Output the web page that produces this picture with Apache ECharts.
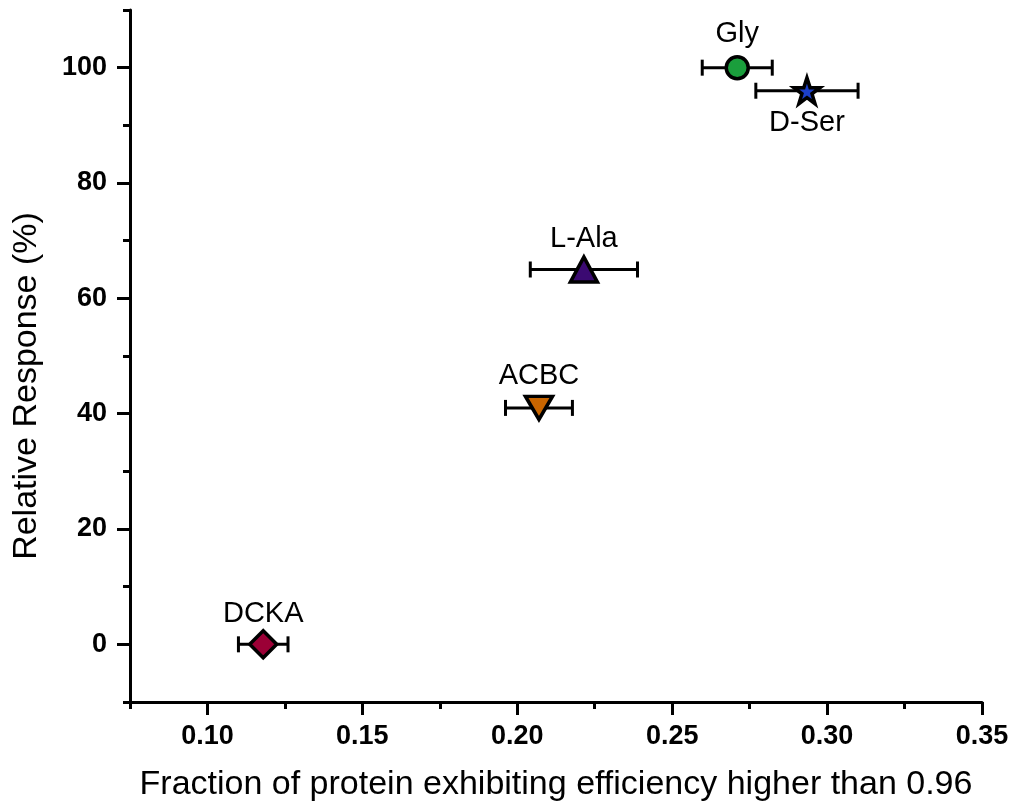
<!DOCTYPE html>
<html>
<head>
<meta charset="utf-8">
<title>Relative Response vs Fraction</title>
<script src="https://cdn.jsdelivr.net/npm/echarts@6/dist/echarts.min.js"></script>
<style>
  html, body { margin: 0; padding: 0; background: #fff; }
  #chart { width: 1014px; height: 807px; }
</style>
</head>
<body>
<div id="chart"></div>
<script>
// Compounds and their measured values
const compounds = ['Gly', 'D-Ser', 'L-Ala', 'ACBC', 'DCKA'];
const fraction = [0.271, 0.2935, 0.2215, 0.207, 0.118];
const fractionErr = [0.0113, 0.0165, 0.0173, 0.0108, 0.008];
const response = [100, 96, 65, 41, 0];

// Tick positions
const xMajorTicks = [0.10, 0.15, 0.20, 0.25, 0.30, 0.35];
const xMinorTicks = [0.075, 0.125, 0.175, 0.225, 0.275, 0.325];
const yMajorTicks = [0, 20, 40, 60, 80, 100];
const yMinorTicks = [-10, 10, 30, 50, 70, 90, 110];

const X_MIN = 0.075, X_MAX = 0.35, Y_MIN = -10, Y_MAX = 110;
const FONT = '"Liberation Sans", Arial, Helvetica, sans-serif';

const STAR = 'path://M50,0 L61.8,35.3 L98.9,35.3 L68.9,57.1 L80.4,92.7 L50,70.9 L19.6,92.7 L31.1,57.1 L1.1,35.3 L38.2,35.3 Z';
const DOWN_TRIANGLE = 'path://M0,0 L10,0 L5,9 Z';

// Marker appearance and label placement per compound
const markerStyle = {
  'Gly':   { symbol: 'circle',   size: 22,        color: '#1a9e3c', labelPos: 'top',    dist: 6 },
  'D-Ser': { symbol: STAR,       size: 26,        color: '#1c3fc8', labelPos: 'bottom', dist: 3 },
  'L-Ala': { symbol: 'triangle', size: [27, 25],  color: '#3b0a72', labelPos: 'top',    dist: 2 },
  'ACBC':  { symbol: DOWN_TRIANGLE, size: [27, 23], color: '#c96500', labelPos: 'top', dist: 4 },
  'DCKA':  { symbol: 'diamond',  size: [27, 27],  color: '#9b0036', labelPos: 'top',    dist: 1 }
};

const labelText = { color: '#000', fontFamily: FONT, fontSize: 29, opacity: 1 };

const points = compounds.map((name, i) => {
  const s = markerStyle[name];
  return {
    name: name,
    value: [fraction[i], response[i]],
    symbol: s.symbol,
    symbolSize: s.size,
    itemStyle: { color: s.color, borderColor: '#000', borderWidth: 3.5, opacity: 1 },
    label: Object.assign({ show: true, position: s.labelPos, distance: s.dist }, labelText)
  };
});

const errorBars = compounds.map((name, i) => [
  fraction[i], response[i], fraction[i] - fractionErr[i], fraction[i] + fractionErr[i]
]);

function renderErrorBar(params, api) {
  const y = api.value(1);
  const left = api.coord([api.value(2), y]);
  const right = api.coord([api.value(3), y]);
  const cap = 8;
  const style = { stroke: '#000', lineWidth: 3 };
  return {
    type: 'group',
    children: [
      { type: 'line', shape: { x1: left[0], y1: left[1], x2: right[0], y2: right[1] }, style: style },
      { type: 'line', shape: { x1: left[0], y1: left[1] - cap, x2: left[0], y2: left[1] + cap }, style: style },
      { type: 'line', shape: { x1: right[0], y1: right[1] - cap, x2: right[0], y2: right[1] + cap }, style: style }
    ]
  };
}

const axisLine = { show: true, onZero: false, lineStyle: { color: '#000', width: 3 } };
const tickLabel = { color: '#000', fontFamily: FONT, fontSize: 27, fontWeight: 'bold' };

const chart = echarts.init(document.getElementById('chart'), null, { renderer: 'canvas' });
chart.setOption({
  backgroundColor: '#fff',
  animation: false,
  grid: { left: 130, right: 32, top: 10, bottom: 105, containLabel: false },
  xAxis: [
    {
      type: 'value', min: X_MIN, max: X_MAX, position: 'bottom',
      name: 'Fraction of protein exhibiting efficiency higher than 0.96',
      nameLocation: 'middle', nameGap: 66,
      nameTextStyle: { color: '#000', fontFamily: FONT, fontSize: 34 },
      axisLine: axisLine,
      axisTick: { show: true, customValues: xMajorTicks, length: 13, lineStyle: { color: '#000', width: 3 } },
      axisLabel: Object.assign({ customValues: xMajorTicks, margin: 21, formatter: v => v.toFixed(2) }, tickLabel),
      splitLine: { show: false }
    },
    {
      type: 'value', min: X_MIN, max: X_MAX, position: 'bottom',
      axisLine: { show: false, onZero: false },
      axisTick: { show: true, customValues: xMinorTicks, length: 7, lineStyle: { color: '#000', width: 3 } },
      axisLabel: { show: false, customValues: xMinorTicks },
      splitLine: { show: false }
    }
  ],
  yAxis: [
    {
      type: 'value', min: Y_MIN, max: Y_MAX, position: 'left',
      name: 'Relative Response (%)',
      nameLocation: 'middle', nameGap: 86,
      nameTextStyle: { color: '#000', fontFamily: FONT, fontSize: 34, padding: [0, 60, 0, 0] },
      axisLine: axisLine,
      axisTick: { show: true, customValues: yMajorTicks, length: 13, lineStyle: { color: '#000', width: 3 } },
      axisLabel: Object.assign({ customValues: yMajorTicks, margin: 23 }, tickLabel),
      splitLine: { show: false }
    },
    {
      type: 'value', min: Y_MIN, max: Y_MAX, position: 'left',
      axisLine: { show: false, onZero: false },
      axisTick: { show: true, customValues: yMinorTicks, length: 7, lineStyle: { color: '#000', width: 3 } },
      axisLabel: { show: false, customValues: yMinorTicks },
      splitLine: { show: false }
    }
  ],
  series: [
    {
      type: 'custom',
      name: 'error',
      xAxisIndex: 0, yAxisIndex: 0,
      renderItem: renderErrorBar,
      data: errorBars,
      z: 2,
      silent: true
    },
    {
      type: 'scatter',
      name: 'compounds',
      xAxisIndex: 0, yAxisIndex: 0,
      data: points,
      z: 5,
      itemStyle: { opacity: 1 },
      label: Object.assign({ show: true, formatter: p => p.name }, labelText)
    }
  ]
});
</script>
</body>
</html>
